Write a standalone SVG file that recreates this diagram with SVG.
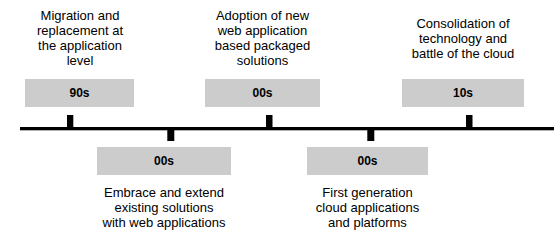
<svg xmlns="http://www.w3.org/2000/svg" width="554" height="252" viewBox="0 0 554 252">
  <style>
    .era { fill: #cccccc; }
    .era-label { font-family: "Liberation Sans", Arial, sans-serif; font-size: 12px; font-weight: bold; fill: #000; text-anchor: middle; }
    .desc { font-family: "Liberation Sans", Arial, sans-serif; font-size: 13px; fill: #000; text-anchor: middle; }
    .tick { fill: #000; }
  </style>
  <rect width="554" height="252" fill="#fff"/>

  <!-- timeline axis and tick marks -->
  <g id="connectors">
    <rect x="20" y="127" width="534" height="3.3" fill="#000"/>
    <rect class="tick" x="67" y="115" width="6.3" height="13"/>
    <rect class="tick" x="266" y="115" width="6.5" height="13"/>
    <rect class="tick" x="466" y="115" width="6.5" height="13"/>
    <rect class="tick" x="167.3" y="129" width="7" height="12"/>
    <rect class="tick" x="367.3" y="129" width="7" height="12"/>
  </g>

  <g id="era-90s">
    <rect class="era" x="25" y="79" width="109" height="28"/>
    <text class="era-label" x="79.5" y="97">90s</text>
    <text class="desc" x="80" y="20">Migration and</text>
    <text class="desc" x="80" y="35">replacement at</text>
    <text class="desc" x="80" y="50">the application</text>
    <text class="desc" x="80" y="65">level</text>
  </g>

  <g id="era-00s-embrace">
    <rect class="era" x="97" y="147" width="134" height="28"/>
    <text class="era-label" x="164" y="165">00s</text>
    <text class="desc" x="164" y="197">Embrace and extend</text>
    <text class="desc" x="164" y="212">existing solutions</text>
    <text class="desc" x="164" y="227">with web applications</text>
  </g>

  <g id="era-00s-adoption">
    <rect class="era" x="205" y="79" width="115" height="28"/>
    <text class="era-label" x="262.5" y="97">00s</text>
    <text class="desc" x="262.5" y="20">Adoption of new</text>
    <text class="desc" x="262.5" y="35">web application</text>
    <text class="desc" x="262.5" y="50">based packaged</text>
    <text class="desc" x="262.5" y="65">solutions</text>
  </g>

  <g id="era-00s-cloud">
    <rect class="era" x="307" y="147" width="121" height="28"/>
    <text class="era-label" x="367.5" y="165">00s</text>
    <text class="desc" x="367.5" y="197">First generation</text>
    <text class="desc" x="367.5" y="212">cloud applications</text>
    <text class="desc" x="367.5" y="227">and platforms</text>
  </g>

  <g id="era-10s">
    <rect class="era" x="402" y="79" width="122" height="28"/>
    <text class="era-label" x="463" y="97">10s</text>
    <text class="desc" x="463" y="27.5">Consolidation of</text>
    <text class="desc" x="463" y="42.5">technology and</text>
    <text class="desc" x="463" y="57.5">battle of the cloud</text>
  </g>
</svg>
